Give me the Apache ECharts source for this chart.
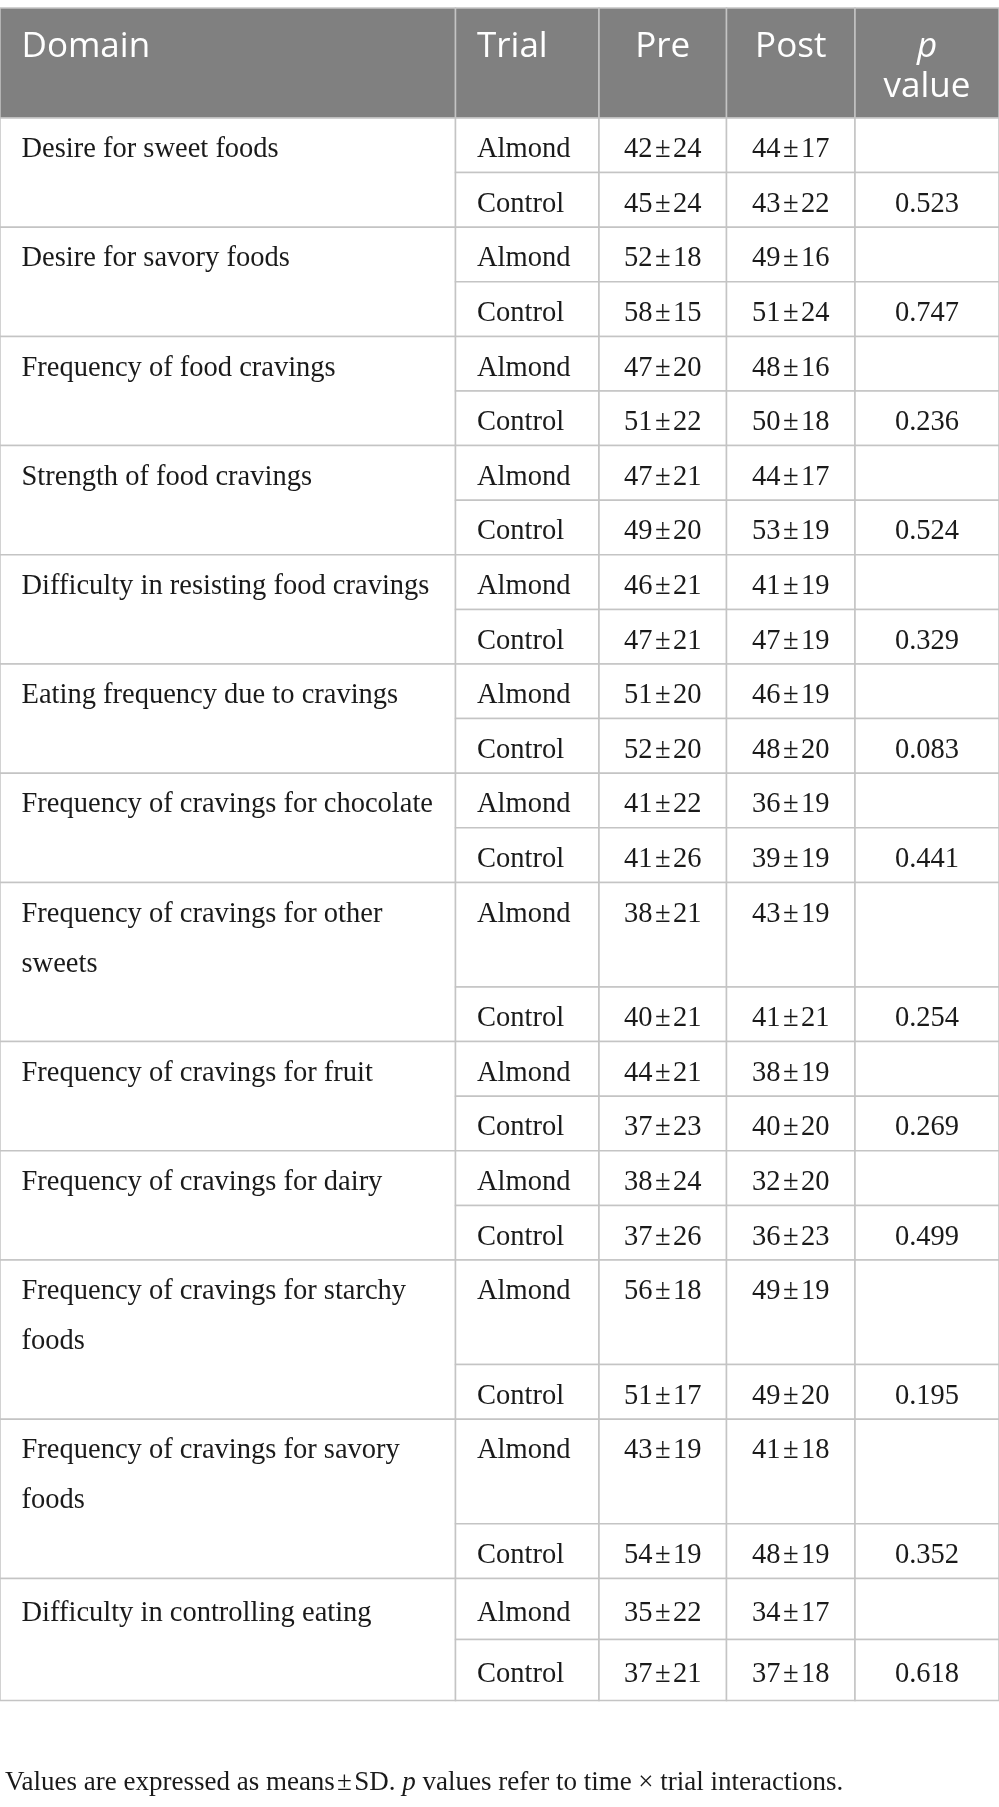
<!DOCTYPE html>
<html lang="en">
<head>
<meta charset="UTF-8">
<title>Food craving questionnaire</title>
<script src="https://cdn.jsdelivr.net/npm/echarts@6/dist/echarts.min.js"></script>
<style>
    html, body { margin: 0; padding: 0; background: #fff; }
    #table { width: 999px; height: 1807px; }
</style>
</head>
<body>
<div id="table"></div>
<script>
    // 表格数据
    const domains = [
        'Desire for sweet foods',
        'Desire for savory foods',
        'Frequency of food cravings',
        'Strength of food cravings',
        'Difficulty in resisting food cravings',
        'Eating frequency due to cravings',
        'Frequency of cravings for chocolate',
        'Frequency of cravings for other\nsweets',
        'Frequency of cravings for fruit',
        'Frequency of cravings for dairy',
        'Frequency of cravings for starchy\nfoods',
        'Frequency of cravings for savory\nfoods',
        'Difficulty in controlling eating'
    ];
    const trials = ['Almond', 'Control'];
    const headers = ['Domain', 'Trial', 'Pre', 'Post', '{i|p}\nvalue'];

    const almondPreMean   = [42, 52, 47, 47, 46, 51, 41, 38, 44, 38, 56, 43, 35];
    const almondPreSd     = [24, 18, 20, 21, 21, 20, 22, 21, 21, 24, 18, 19, 22];
    const almondPostMean  = [44, 49, 48, 44, 41, 46, 36, 43, 38, 32, 49, 41, 34];
    const almondPostSd    = [17, 16, 16, 17, 19, 19, 19, 19, 19, 20, 19, 18, 17];
    const controlPreMean  = [45, 58, 51, 49, 47, 52, 41, 40, 37, 37, 51, 54, 37];
    const controlPreSd    = [24, 15, 22, 20, 21, 20, 26, 21, 23, 26, 17, 19, 21];
    const controlPostMean = [43, 51, 50, 53, 47, 48, 39, 41, 40, 36, 49, 48, 37];
    const controlPostSd   = [22, 24, 18, 19, 19, 20, 19, 21, 20, 23, 20, 19, 18];
    const pValues = ['0.523', '0.747', '0.236', '0.524', '0.329', '0.083', '0.441',
                     '0.254', '0.269', '0.499', '0.195', '0.352', '0.618'];

    const footnote = '{n|Values are expressed as means\u200A±\u200ASD. }{i|p}{n| values refer to time × trial interactions.}';

    // 版式
    const TABLE_TOP = 8;
    const HEADER_H = 110;
    const LINE_H = 50;
    const ROW_PAD = 4.6;
    const LAST_EXTRA = 6.5;   // 最后一组行高略大
    const COL_W = [455.5, 143.5, 127.5, 128.5, 144];
    const CELL_PAD = 21.5;
    const SERIF = '"Liberation Serif", "Times New Roman", serif';
    const SANS = '"Open Sans", "Noto Sans", sans-serif';

    const fmt = (m, s) => m + '\u200A±\u200A' + s;

    const colX = [0];
    COL_W.forEach(w => colX.push(colX[colX.length - 1] + w));

    // 组装单元格
    const cells = [];
    headers.forEach((h, c) => {
        cells.push({
            box: [colX[c], TABLE_TOP, colX[c + 1], TABLE_TOP + HEADER_H],
            text: h, header: true, align: c < 2 ? 'left' : 'center', lines: 1
        });
    });

    let y = TABLE_TOP + HEADER_H;
    domains.forEach((d, g) => {
        const lines = d.split('\n').length;
        const extra = g === domains.length - 1 ? LAST_EXTRA : 0;
        const hA = ROW_PAD + LINE_H * lines + extra;
        const hC = ROW_PAD + LINE_H + extra;
        const rowVals = [
            [trials[0], fmt(almondPreMean[g], almondPreSd[g]), fmt(almondPostMean[g], almondPostSd[g]), ''],
            [trials[1], fmt(controlPreMean[g], controlPreSd[g]), fmt(controlPostMean[g], controlPostSd[g]), pValues[g]]
        ];
        cells.push({ box: [colX[0], y, colX[1], y + hA + hC], text: d, align: 'left', lines: lines, rowH: hA });
        [hA, hC].forEach((h, r) => {
            rowVals[r].forEach((t, k) => {
                const c = k + 1;
                cells.push({ box: [colX[c], y, colX[c + 1], y + h], text: t, align: c === 1 ? 'left' : 'center', lines: r === 0 ? lines : 1, rowH: h });
            });
            y += h;
        });
    });

    const chart = echarts.init(document.getElementById('table'), null, { renderer: 'canvas' });

    function renderCell(params, api) {
        const cell = cells[params.dataIndex];
        const p0 = api.coord([api.value(0), api.value(1)]);
        const p1 = api.coord([api.value(2), api.value(3)]);
        const w = p1[0] - p0[0];
        const h = p1[1] - p0[1];
        const tx = cell.align === 'left' ? p0[0] + CELL_PAD : p0[0] + w / 2;
        let ty, textStyle;
        if (cell.header) {
            ty = p0[1] + 19;
            textStyle = {
                text: cell.text, x: tx, y: ty, align: cell.align, verticalAlign: 'top',
                fill: '#ffffff', fontFamily: SANS, fontSize: 35, lineHeight: 40,
                rich: { i: { fontStyle: 'italic', fontFamily: SANS, fontSize: 35, lineHeight: 40, fill: '#ffffff' } }
            };
        } else {
            const rowH = cell.rowH;
            const firstCenter = (rowH - (cell.lines - 1) * LINE_H) / 2;
            ty = p0[1] + firstCenter - LINE_H / 2 + 4.5;
            textStyle = {
                text: cell.text, x: tx, y: ty, align: cell.align, verticalAlign: 'top',
                fill: '#1a1a1a', fontFamily: SERIF, fontSize: 28.5, lineHeight: LINE_H
            };
        }
        return {
            type: 'group',
            children: [
                {
                    type: 'rect',
                    shape: { x: p0[0], y: p0[1], width: w, height: h },
                    style: { fill: cell.header ? '#808080' : '#ffffff', stroke: '#c4c4c4', lineWidth: 1.5 }
                },
                { type: 'text', style: textStyle }
            ]
        };
    }

    const option = {
        animation: false,
        title: {
            text: footnote,
            left: 0,
            top: 1764,
            textStyle: {
                fontWeight: 'normal',
                rich: {
                    n: { fontFamily: SERIF, fontSize: 27, fontWeight: 'normal', color: '#1a1a1a' },
                    i: { fontFamily: SERIF, fontSize: 27, fontWeight: 'normal', color: '#1a1a1a', fontStyle: 'italic' }
                }
            }
        },
        grid: { left: 0, right: 0, top: 0, bottom: 0 },
        xAxis: { type: 'value', min: 0, max: colX[colX.length - 1], show: false },
        yAxis: { type: 'value', min: 0, max: 1807, inverse: true, show: false },
        series: [{
            type: 'custom',
            clip: false,
            renderItem: renderCell,
            data: cells.map(c => c.box)
        }]
    };
    chart.setOption(option);
</script>
</body>
</html>
